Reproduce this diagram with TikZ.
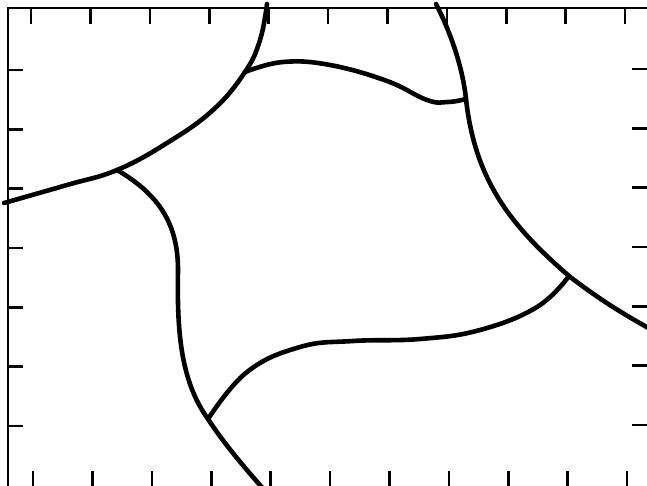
\documentclass[tikz,border=0pt]{standalone}
\usetikzlibrary{calc}
\tikzset{
  frameline/.style={line width=2.8pt, draw=black},
  tickmark/.style={line width=2.6pt, draw=black},
  wall/.style={line width=4.6pt, draw=black, line cap=round, line join=round},
}

\begin{document}
\begin{tikzpicture}[x=1pt, y=-1pt]
\useasboundingbox (0,0) rectangle (647,485);
% frame (right and bottom sides fall off the page)
\draw[frameline] (650,8) -- (8,8) -- (8,490);
\foreach \i in {0,...,10} {
  \draw[tickmark] ({31+59.4*\i},8) -- ({31+59.4*\i},24);
  \draw[tickmark] ({33+59.4*\i},471) -- ({33+59.4*\i},486);
}
\foreach \i in {0,...,6} {
  \draw[tickmark] (8,{70+59.3*\i}) -- (23,{70+59.3*\i});
  \draw[tickmark] (632,{69+59.3*\i}) -- (648,{69+59.3*\i});
}
% junctions
\coordinate (j1) at (117,170);
\coordinate (j2) at (245,72);
\coordinate (j3) at (466,99);
\coordinate (j4) at (569,276);
\coordinate (j5) at (208,419);
% boundaries
\draw[wall] plot[smooth, tension=0.7] coordinates {(4,203) (67,185) (j1) (167,143) (213,110) (j2) (260,40) (267,4)};
\draw[wall] plot[smooth, tension=0.7] coordinates {(j2) (283,62) (330,65) (387,81) (427,100) (448,102) (j3)};
\draw[wall] (436,4) .. controls (452,35) and (463,70) .. (j3)
  .. controls (475,180) and (510,225) .. (j4)
  .. controls (600,300) and (625,315) .. (652,330);
\draw[wall] plot[smooth, tension=0.7] coordinates {(j4) (537,307) (480,330) (420,339) (353,341) (300,347) (247,372) (j5)};
\draw[wall] (j1) .. controls (160,195) and (178,225) .. (178,270)
  .. controls (177,330) and (180,380) .. (j5)
  .. controls (225,445) and (245,468) .. (266,492);
\end{tikzpicture}
\end{document}
